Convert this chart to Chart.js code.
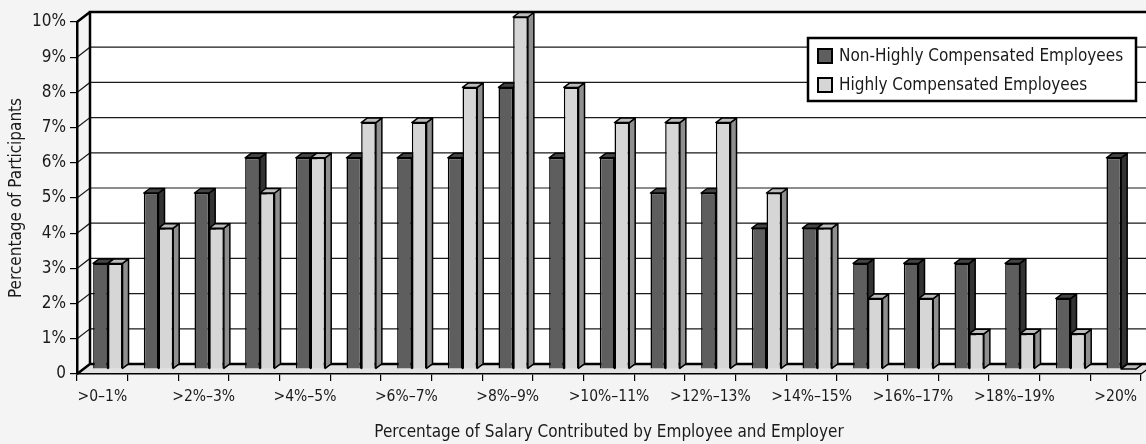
<!DOCTYPE html>
<html>
<head>
<meta charset="utf-8">
<script src="https://cdn.jsdelivr.net/npm/chart.js@4.4.1/dist/chart.umd.min.js"></script>
<style>
  html, body { margin: 0; padding: 0; background: #f4f4f4; }
  #wrap { width: 1146px; height: 444px; position: relative; }
</style>
</head>
<body>
<div id="wrap"><canvas id="chart"></canvas></div>
<script>
var categories = [">0–1%", ">1%–2%", ">2%–3%", ">3%–4%", ">4%–5%", ">5%–6%", ">6%–7%",
    ">7%–8%", ">8%–9%", ">9%–10%", ">10%–11%", ">11%–12%", ">12%–13%", ">13%–14%",
    ">14%–15%", ">15%–16%", ">16%–17%", ">17%–18%", ">18%–19%", ">19%–20%", ">20%"];
var nonHighlyComp = [3, 5, 5, 6, 6, 6, 6, 6, 8, 6, 6, 5, 5, 4, 4, 3, 3, 3, 3, 2, 6];
var highlyComp = [3, 4, 4, 5, 6, 7, 7, 8, 10, 8, 7, 7, 7, 5, 4, 2, 2, 1, 1, 1, 0];
var seriesNames = ["Non-Highly Compensated Employees", "Highly Compensated Employees"];

var FONT = '"Liberation Sans Narrow", "DejaVu Sans Condensed", "Arial Narrow", sans-serif';
var INK = "#1a1a1a";

// front faces, top faces, side faces per series
var faceColors = [
    { front: "#5e5e5e", top: "#444444", side: "#333333" },
    { front: "#d6d6d6", top: "#bdbdbd", side: "#8f8f8f" }
];

var WALL = { dx: 13, dy: -10 };      // back wall offset from the front axis plane
var SHIFT = { dx: 5.5, dy: -5 };     // bars stand halfway back
var DEPTH = { dx: 6, dy: -4.5 };     // thickness of each bar

function poly(ctx, pts, fill, stroke, lw) {
    ctx.beginPath();
    ctx.moveTo(pts[0][0], pts[0][1]);
    for (var i = 1; i < pts.length; i++) ctx.lineTo(pts[i][0], pts[i][1]);
    ctx.closePath();
    if (fill) { ctx.fillStyle = fill; ctx.fill(); }
    if (stroke) { ctx.strokeStyle = stroke; ctx.lineWidth = lw || 1; ctx.stroke(); }
}

var depthPlugin = {
    id: "depth",
    beforeDraw: function(chart) {
        var ctx = chart.ctx, a = chart.chartArea, y = chart.scales.y;
        var W = chart.width;
        var y0 = y.getPixelForValue(0), y10 = y.getPixelForValue(10);
        ctx.save();
        ctx.fillStyle = "#f4f4f4";
        ctx.fillRect(0, 0, W, chart.height);

        // back wall and floor
        poly(ctx, [[a.left + WALL.dx, y10 + WALL.dy], [W, y10 + WALL.dy], [W, y0 + WALL.dy], [a.left + WALL.dx, y0 + WALL.dy]], "#ffffff");
        poly(ctx, [[a.left, y0], [a.right, y0], [a.right + WALL.dx, y0 + WALL.dy], [a.left + WALL.dx, y0 + WALL.dy]], "#e2e2e2");

        // gridlines on the back wall, with their links to the front ticks
        ctx.strokeStyle = INK; ctx.lineWidth = 1.2;
        for (var v = 0; v <= 10; v++) {
            var py = y.getPixelForValue(v);
            ctx.beginPath();
            ctx.moveTo(a.left, py); ctx.lineTo(a.left + WALL.dx, py + WALL.dy);
            if (v > 0 && v < 10) { ctx.lineTo(W, py + WALL.dy); }
            ctx.stroke();
        }

        // heavy edges of the box
        ctx.strokeStyle = "#000"; ctx.lineWidth = 2.5;
        ctx.beginPath();
        ctx.moveTo(W, y10 + WALL.dy); ctx.lineTo(a.left + WALL.dx, y10 + WALL.dy);
        ctx.lineTo(a.left + WALL.dx, y0 + WALL.dy); ctx.lineTo(W, y0 + WALL.dy);
        ctx.moveTo(a.left, y10); ctx.lineTo(a.left + WALL.dx, y10 + WALL.dy);
        ctx.moveTo(a.left, y0); ctx.lineTo(a.left + WALL.dx, y0 + WALL.dy);
        ctx.stroke();
        ctx.lineWidth = 1.2;
        ctx.beginPath();
        ctx.moveTo(a.right, y0); ctx.lineTo(a.right + WALL.dx, y0 + WALL.dy);
        ctx.stroke();
        ctx.restore();
    },
    beforeDatasetsDraw: function(chart) {
        var ctx = chart.ctx;
        var metas = [chart.getDatasetMeta(0), chart.getDatasetMeta(1)];
        ctx.save();
        ctx.translate(SHIFT.dx, SHIFT.dy);
        ctx.lineJoin = "round";
        for (var i = 0; i < categories.length; i++) {
            for (var s = 0; s < 2; s++) {
                var p = metas[s].data[i].getProps(["x", "y", "base", "width"], true);
                var l = p.x - p.width / 2, r = p.x + p.width / 2;
                var c = faceColors[s];
                poly(ctx, [[r, p.y], [r + DEPTH.dx, p.y + DEPTH.dy], [r + DEPTH.dx, p.base + DEPTH.dy], [r, p.base]], c.side, "#000", 1.5);
                poly(ctx, [[l, p.y], [r, p.y], [r + DEPTH.dx, p.y + DEPTH.dy], [l + DEPTH.dx, p.y + DEPTH.dy]], c.top, "#000", 1.5);
            }
        }
        ctx.restore();
        // front faces are drawn by the bar controller in the same shifted plane
        ctx.save();
        ctx.translate(SHIFT.dx, SHIFT.dy);
    },
    afterDatasetsDraw: function(chart) {
        chart.ctx.restore();
    },
    afterDraw: function(chart) {
        var ctx = chart.ctx;
        var bx = 808, by = 38, bw = 328, bh = 63;
        ctx.save();
        poly(ctx, [[bx, by], [bx + bw, by], [bx + bw, by + bh], [bx, by + bh]], "#ffffff", "#000", 2.5);
        ctx.font = "17px " + FONT;
        ctx.textBaseline = "middle";
        for (var s = 0; s < 2; s++) {
            var ry = by + 18 + s * 29;
            poly(ctx, [[818, ry - 7], [832, ry - 7], [832, ry + 7], [818, ry + 7]], faceColors[s].front, "#000", 2);
            ctx.fillStyle = INK;
            ctx.fillText(chart.data.datasets[s].label, 839, ry + 1);
        }
        ctx.restore();
    }
};

var chart = new Chart(document.getElementById("chart"), {
    type: "bar",
    data: {
        labels: categories,
        datasets: [
            { label: seriesNames[0], data: nonHighlyComp, backgroundColor: faceColors[0].front, borderColor: "#000", borderWidth: 1.5, clip: false },
            { label: seriesNames[1], data: highlyComp, backgroundColor: faceColors[1].front, borderColor: "#000", borderWidth: 1.5, clip: false }
        ]
    },
    options: {
        animation: false,
        responsive: true,
        maintainAspectRatio: false,
        layout: { padding: { top: 22, right: 5, left: 0, bottom: 0 } },
        datasets: { bar: { categoryPercentage: 0.58, barPercentage: 1.0 } },
        scales: {
            x: {
                afterFit: function(scale) { scale.height = 70; },
                grid: { offset: true, drawOnChartArea: false, tickLength: 7, color: "#000", lineWidth: 1.2 },
                border: { display: true, color: "#000", width: 1.5 },
                ticks: {
                    autoSkip: false, maxRotation: 0, padding: 7, color: INK,
                    font: { family: FONT, size: 15.5 },
                    callback: function(v, i) { return i % 2 === 0 ? categories[i] : ""; }
                },
                title: { display: true, text: "Percentage of Salary Contributed by Employee and Employer", color: INK, font: { family: FONT, size: 17 }, padding: { top: 0, bottom: 1 } }
            },
            y: {
                min: 0, max: 10,
                afterFit: function(scale) { scale.width = 77; },
                grid: { drawOnChartArea: false, tickLength: 7, color: "#000", lineWidth: 1.2 },
                border: { display: true, color: "#000", width: 2.5 },
                ticks: {
                    stepSize: 1, padding: 4, color: INK,
                    font: { family: FONT, size: 17 },
                    callback: function(v) { return v === 0 ? "0" : v + "%"; }
                },
                title: { display: true, text: "Percentage of Participants", color: INK, font: { family: FONT, size: 17 }, padding: { top: 6, bottom: 0 } }
            }
        },
        plugins: {
            legend: { display: false },
            tooltip: { enabled: false }
        }
    },
    plugins: [depthPlugin]
});
</script>
</body>
</html>
